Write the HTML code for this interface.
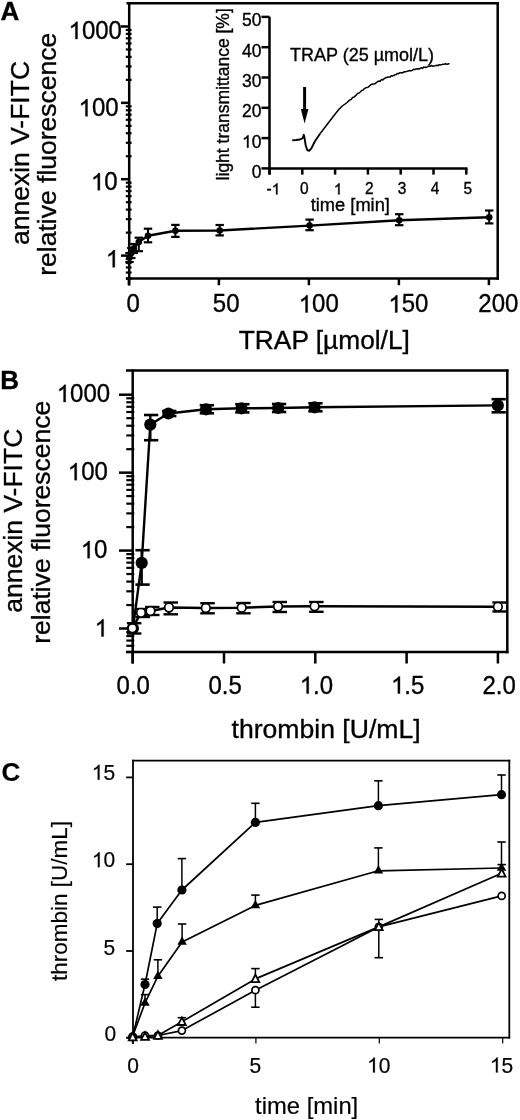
<!DOCTYPE html>
<html><head><meta charset="utf-8"><title>Figure</title>
<style>html,body{margin:0;padding:0;background:#fff;} svg{display:block;will-change:transform;}</style></head>
<body><svg width="520" height="1120" viewBox="0 0 520 1120" font-family="'Liberation Sans', sans-serif" fill="#000" stroke="#000">
<g stroke="#000" stroke-linecap="butt">
<text stroke="#000" stroke-width="0.35" transform="translate(0.40,19.60)" font-size="26" font-weight="bold" >A</text>
<line x1="129.20" y1="2.00" x2="129.20" y2="285.40" stroke-width="2.5"/>
<line x1="126.50" y1="3.20" x2="498.90" y2="3.20" stroke-width="2.5"/>
<line x1="497.70" y1="2.00" x2="497.70" y2="279.80" stroke-width="2.5"/>
<line x1="126.00" y1="278.50" x2="498.90" y2="278.50" stroke-width="2.5"/>
<line x1="121.00" y1="255.60" x2="129.20" y2="255.60" stroke-width="2.5"/>
<line x1="121.00" y1="179.23" x2="129.20" y2="179.23" stroke-width="2.5"/>
<line x1="121.00" y1="102.86" x2="129.20" y2="102.86" stroke-width="2.5"/>
<line x1="121.00" y1="26.49" x2="129.20" y2="26.49" stroke-width="2.5"/>
<line x1="125.80" y1="278.59" x2="131.60" y2="278.59" stroke-width="2.2"/>
<line x1="125.80" y1="272.54" x2="131.60" y2="272.54" stroke-width="2.2"/>
<line x1="125.80" y1="267.43" x2="131.60" y2="267.43" stroke-width="2.2"/>
<line x1="125.80" y1="263.00" x2="131.60" y2="263.00" stroke-width="2.2"/>
<line x1="125.80" y1="259.09" x2="131.60" y2="259.09" stroke-width="2.2"/>
<line x1="125.80" y1="232.61" x2="131.60" y2="232.61" stroke-width="2.2"/>
<line x1="125.80" y1="219.16" x2="131.60" y2="219.16" stroke-width="2.2"/>
<line x1="125.80" y1="209.62" x2="131.60" y2="209.62" stroke-width="2.2"/>
<line x1="125.80" y1="202.22" x2="131.60" y2="202.22" stroke-width="2.2"/>
<line x1="125.80" y1="196.17" x2="131.60" y2="196.17" stroke-width="2.2"/>
<line x1="125.80" y1="191.06" x2="131.60" y2="191.06" stroke-width="2.2"/>
<line x1="125.80" y1="186.63" x2="131.60" y2="186.63" stroke-width="2.2"/>
<line x1="125.80" y1="182.72" x2="131.60" y2="182.72" stroke-width="2.2"/>
<line x1="125.80" y1="156.24" x2="131.60" y2="156.24" stroke-width="2.2"/>
<line x1="125.80" y1="142.79" x2="131.60" y2="142.79" stroke-width="2.2"/>
<line x1="125.80" y1="133.25" x2="131.60" y2="133.25" stroke-width="2.2"/>
<line x1="125.80" y1="125.85" x2="131.60" y2="125.85" stroke-width="2.2"/>
<line x1="125.80" y1="119.80" x2="131.60" y2="119.80" stroke-width="2.2"/>
<line x1="125.80" y1="114.69" x2="131.60" y2="114.69" stroke-width="2.2"/>
<line x1="125.80" y1="110.26" x2="131.60" y2="110.26" stroke-width="2.2"/>
<line x1="125.80" y1="106.35" x2="131.60" y2="106.35" stroke-width="2.2"/>
<line x1="125.80" y1="79.87" x2="131.60" y2="79.87" stroke-width="2.2"/>
<line x1="125.80" y1="66.42" x2="131.60" y2="66.42" stroke-width="2.2"/>
<line x1="125.80" y1="56.88" x2="131.60" y2="56.88" stroke-width="2.2"/>
<line x1="125.80" y1="49.48" x2="131.60" y2="49.48" stroke-width="2.2"/>
<line x1="125.80" y1="43.43" x2="131.60" y2="43.43" stroke-width="2.2"/>
<line x1="125.80" y1="38.32" x2="131.60" y2="38.32" stroke-width="2.2"/>
<line x1="125.80" y1="33.89" x2="131.60" y2="33.89" stroke-width="2.2"/>
<line x1="125.80" y1="29.98" x2="131.60" y2="29.98" stroke-width="2.2"/>
<line x1="128.90" y1="278.50" x2="128.90" y2="285.20" stroke-width="2.5"/>
<line x1="218.90" y1="278.50" x2="218.90" y2="285.20" stroke-width="2.5"/>
<line x1="308.90" y1="278.50" x2="308.90" y2="285.20" stroke-width="2.5"/>
<line x1="398.90" y1="278.50" x2="398.90" y2="285.20" stroke-width="2.5"/>
<line x1="488.90" y1="278.50" x2="488.90" y2="285.20" stroke-width="2.5"/>
<g transform="translate(68.55,38.96) scale(1.0000,1.0405)"><text stroke="#000" stroke-width="0.35" font-size="24" > 000</text><path d="M8.94,0.00 L6.83,0.00 L6.83,-12.92 Q6.07,-12.22 4.84,-11.52 Q3.61,-10.82 2.61,-10.46 L2.61,-12.42 Q4.39,-13.23 5.73,-14.38 Q7.07,-15.53 7.62,-16.51 L8.94,-16.51 Z" stroke-width="0.35"/></g>
<g transform="translate(78.59,116.26) scale(1.0000,1.0405)"><text stroke="#000" stroke-width="0.35" font-size="24" > 00</text><path d="M8.94,0.00 L6.83,0.00 L6.83,-12.92 Q6.07,-12.22 4.84,-11.52 Q3.61,-10.82 2.61,-10.46 L2.61,-12.42 Q4.39,-13.23 5.73,-14.38 Q7.07,-15.53 7.62,-16.51 L8.94,-16.51 Z" stroke-width="0.35"/></g>
<g transform="translate(90.94,190.26) scale(1.0000,1.0405)"><text stroke="#000" stroke-width="0.35" font-size="24" > 0</text><path d="M8.94,0.00 L6.83,0.00 L6.83,-12.92 Q6.07,-12.22 4.84,-11.52 Q3.61,-10.82 2.61,-10.46 L2.61,-12.42 Q4.39,-13.23 5.73,-14.38 Q7.07,-15.53 7.62,-16.51 L8.94,-16.51 Z" stroke-width="0.35"/></g>
<g transform="translate(105.86,267.30) scale(1.0000,1.0405)"><text stroke="#000" stroke-width="0.35" font-size="24" > </text><path d="M8.94,0.00 L6.83,0.00 L6.83,-12.92 Q6.07,-12.22 4.84,-11.52 Q3.61,-10.82 2.61,-10.46 L2.61,-12.42 Q4.39,-13.23 5.73,-14.38 Q7.07,-15.53 7.62,-16.51 L8.94,-16.51 Z" stroke-width="0.35"/></g>
<text stroke="#000" stroke-width="0.35" transform="translate(126.58,312.46) scale(1.0000,1.0405)" font-size="24" >0</text>
<text stroke="#000" stroke-width="0.35" transform="translate(212.84,312.46) scale(1.0000,1.0405)" font-size="24" >50</text>
<g transform="translate(298.69,312.46) scale(1.0000,1.0405)"><text stroke="#000" stroke-width="0.35" font-size="24" > 00</text><path d="M8.94,0.00 L6.83,0.00 L6.83,-12.92 Q6.07,-12.22 4.84,-11.52 Q3.61,-10.82 2.61,-10.46 L2.61,-12.42 Q4.39,-13.23 5.73,-14.38 Q7.07,-15.53 7.62,-16.51 L8.94,-16.51 Z" stroke-width="0.35"/></g>
<g transform="translate(388.39,312.46) scale(1.0000,1.0405)"><text stroke="#000" stroke-width="0.35" font-size="24" > 50</text><path d="M8.94,0.00 L6.83,0.00 L6.83,-12.92 Q6.07,-12.22 4.84,-11.52 Q3.61,-10.82 2.61,-10.46 L2.61,-12.42 Q4.39,-13.23 5.73,-14.38 Q7.07,-15.53 7.62,-16.51 L8.94,-16.51 Z" stroke-width="0.35"/></g>
<text stroke="#000" stroke-width="0.35" transform="translate(478.34,312.46) scale(1.0000,1.0405)" font-size="24" >200</text>
<text stroke="#000" stroke-width="0.35" transform="translate(238.80,349.30)" font-size="26.3" >TRAP [µmol/L]</text>
<text stroke="#000" stroke-width="0.35" transform="translate(28.90,245.05) rotate(-90)" font-size="26.5">annexin V-FITC</text>
<text stroke="#000" stroke-width="0.35" transform="translate(55.90,275.75) rotate(-90)" font-size="26.5">relative fluorescence</text>
<polyline points="129.50,257.50 131.30,253.00 133.80,248.50 138.80,242.00 148.00,235.80 175.40,230.80 219.70,230.50 309.60,225.60 399.20,220.20 489.20,217.20" fill="none" stroke-width="2.4" stroke-linejoin="round" />
<line x1="129.50" y1="253.00" x2="129.50" y2="262.00" stroke-width="2"/>
<line x1="125.30" y1="253.00" x2="133.70" y2="253.00" stroke-width="2.2"/>
<line x1="125.30" y1="262.00" x2="133.70" y2="262.00" stroke-width="2.2"/>
<circle cx="129.50" cy="257.50" r="3.3" fill="#000" stroke-width="0"/>
<line x1="131.30" y1="248.00" x2="131.30" y2="258.00" stroke-width="2"/>
<line x1="127.10" y1="248.00" x2="135.50" y2="248.00" stroke-width="2.2"/>
<line x1="127.10" y1="258.00" x2="135.50" y2="258.00" stroke-width="2.2"/>
<circle cx="131.30" cy="253.00" r="3.3" fill="#000" stroke-width="0"/>
<line x1="133.80" y1="244.00" x2="133.80" y2="253.00" stroke-width="2"/>
<line x1="129.60" y1="244.00" x2="138.00" y2="244.00" stroke-width="2.2"/>
<line x1="129.60" y1="253.00" x2="138.00" y2="253.00" stroke-width="2.2"/>
<circle cx="133.80" cy="248.50" r="3.3" fill="#000" stroke-width="0"/>
<line x1="138.80" y1="237.70" x2="138.80" y2="251.20" stroke-width="2"/>
<line x1="134.60" y1="237.70" x2="143.00" y2="237.70" stroke-width="2.2"/>
<line x1="134.60" y1="251.20" x2="143.00" y2="251.20" stroke-width="2.2"/>
<circle cx="138.80" cy="242.00" r="3.3" fill="#000" stroke-width="0"/>
<line x1="148.00" y1="228.70" x2="148.00" y2="242.30" stroke-width="2"/>
<line x1="143.80" y1="228.70" x2="152.20" y2="228.70" stroke-width="2.2"/>
<line x1="143.80" y1="242.30" x2="152.20" y2="242.30" stroke-width="2.2"/>
<circle cx="148.00" cy="235.80" r="3.3" fill="#000" stroke-width="0"/>
<line x1="175.40" y1="224.90" x2="175.40" y2="236.90" stroke-width="2"/>
<line x1="171.20" y1="224.90" x2="179.60" y2="224.90" stroke-width="2.2"/>
<line x1="171.20" y1="236.90" x2="179.60" y2="236.90" stroke-width="2.2"/>
<circle cx="175.40" cy="230.80" r="3.3" fill="#000" stroke-width="0"/>
<line x1="219.70" y1="225.00" x2="219.70" y2="235.40" stroke-width="2"/>
<line x1="215.50" y1="225.00" x2="223.90" y2="225.00" stroke-width="2.2"/>
<line x1="215.50" y1="235.40" x2="223.90" y2="235.40" stroke-width="2.2"/>
<circle cx="219.70" cy="230.50" r="3.3" fill="#000" stroke-width="0"/>
<line x1="309.60" y1="219.60" x2="309.60" y2="230.20" stroke-width="2"/>
<line x1="305.40" y1="219.60" x2="313.80" y2="219.60" stroke-width="2.2"/>
<line x1="305.40" y1="230.20" x2="313.80" y2="230.20" stroke-width="2.2"/>
<circle cx="309.60" cy="225.60" r="3.3" fill="#000" stroke-width="0"/>
<line x1="399.20" y1="214.20" x2="399.20" y2="225.20" stroke-width="2"/>
<line x1="395.00" y1="214.20" x2="403.40" y2="214.20" stroke-width="2.2"/>
<line x1="395.00" y1="225.20" x2="403.40" y2="225.20" stroke-width="2.2"/>
<circle cx="399.20" cy="220.20" r="3.3" fill="#000" stroke-width="0"/>
<line x1="489.20" y1="210.50" x2="489.20" y2="223.40" stroke-width="2"/>
<line x1="485.00" y1="210.50" x2="493.40" y2="210.50" stroke-width="2.2"/>
<line x1="485.00" y1="223.40" x2="493.40" y2="223.40" stroke-width="2.2"/>
<circle cx="489.20" cy="217.20" r="3.3" fill="#000" stroke-width="0"/>
<line x1="269.50" y1="16.70" x2="269.50" y2="174.60" stroke-width="2.5"/>
<line x1="269.50" y1="168.40" x2="467.50" y2="168.40" stroke-width="2.5"/>
<line x1="261.50" y1="168.40" x2="269.50" y2="168.40" stroke-width="2.5"/>
<line x1="261.50" y1="138.10" x2="269.50" y2="138.10" stroke-width="2.5"/>
<line x1="261.50" y1="107.80" x2="269.50" y2="107.80" stroke-width="2.5"/>
<line x1="261.50" y1="77.50" x2="269.50" y2="77.50" stroke-width="2.5"/>
<line x1="261.50" y1="47.20" x2="269.50" y2="47.20" stroke-width="2.5"/>
<line x1="261.50" y1="16.90" x2="269.50" y2="16.90" stroke-width="2.5"/>
<line x1="269.50" y1="168.40" x2="269.50" y2="174.60" stroke-width="2.5"/>
<line x1="302.30" y1="168.40" x2="302.30" y2="174.60" stroke-width="2.5"/>
<line x1="335.10" y1="168.40" x2="335.10" y2="174.60" stroke-width="2.5"/>
<line x1="367.90" y1="168.40" x2="367.90" y2="174.60" stroke-width="2.5"/>
<line x1="400.70" y1="168.40" x2="400.70" y2="174.60" stroke-width="2.5"/>
<line x1="433.50" y1="168.40" x2="433.50" y2="174.60" stroke-width="2.5"/>
<line x1="466.30" y1="168.40" x2="466.30" y2="174.60" stroke-width="2.5"/>
<text stroke="#000" stroke-width="0.35" transform="translate(251.75,177.97) scale(1.0000,1.0405)" font-size="17.5" >0</text>
<g transform="translate(242.02,147.67) scale(1.0000,1.0405)"><text stroke="#000" stroke-width="0.35" font-size="17.5" > 0</text><path d="M6.52,0.00 L4.98,0.00 L4.98,-9.42 Q4.43,-8.91 3.53,-8.40 Q2.63,-7.89 1.91,-7.63 L1.91,-9.06 Q3.20,-9.65 4.18,-10.49 Q5.15,-11.33 5.55,-12.04 L6.52,-12.04 Z" stroke-width="0.35"/></g>
<text stroke="#000" stroke-width="0.35" transform="translate(242.02,117.37) scale(1.0000,1.0405)" font-size="17.5" >20</text>
<text stroke="#000" stroke-width="0.35" transform="translate(242.02,87.07) scale(1.0000,1.0405)" font-size="17.5" >30</text>
<text stroke="#000" stroke-width="0.35" transform="translate(242.02,56.77) scale(1.0000,1.0405)" font-size="17.5" >40</text>
<text stroke="#000" stroke-width="0.35" transform="translate(242.02,26.47) scale(1.0000,1.0405)" font-size="17.5" >50</text>
<g transform="translate(266.49,194.40) scale(1.0000,1.0405)"><text stroke="#000" stroke-width="0.35" font-size="15.5" >- </text><path d="M10.94,0.00 L9.57,0.00 L9.57,-8.34 Q9.08,-7.89 8.29,-7.44 Q7.49,-6.99 6.85,-6.76 L6.85,-8.02 Q8.00,-8.55 8.86,-9.29 Q9.73,-10.03 10.08,-10.66 L10.94,-10.66 Z" stroke-width="0.35"/></g>
<text stroke="#000" stroke-width="0.35" transform="translate(300.04,194.24) scale(1.0000,1.0405)" font-size="15.5" >0</text>
<g transform="translate(333.77,194.40) scale(1.0000,1.0405)"><text stroke="#000" stroke-width="0.35" font-size="15.5" > </text><path d="M5.77,0.00 L4.41,0.00 L4.41,-8.34 Q3.92,-7.89 3.13,-7.44 Q2.33,-6.99 1.69,-6.76 L1.69,-8.02 Q2.84,-8.55 3.70,-9.29 Q4.56,-10.03 4.92,-10.66 L5.77,-10.66 Z" stroke-width="0.35"/></g>
<text stroke="#000" stroke-width="0.35" transform="translate(364.89,194.40) scale(1.0000,1.0405)" font-size="15.5" >2</text>
<text stroke="#000" stroke-width="0.35" transform="translate(397.84,194.24) scale(1.0000,1.0405)" font-size="15.5" >3</text>
<text stroke="#000" stroke-width="0.35" transform="translate(430.74,194.40) scale(1.0000,1.0405)" font-size="15.5" >4</text>
<text stroke="#000" stroke-width="0.35" transform="translate(463.60,194.24) scale(1.0000,1.0405)" font-size="15.5" >5</text>
<text stroke="#000" stroke-width="0.35" transform="translate(310.70,210.60)" font-size="18.3" >time [min]</text>
<text stroke="#000" stroke-width="0.35" transform="translate(229.10,180.40) rotate(-90)" font-size="17.5">light transmittance [%]</text>
<text stroke="#000" stroke-width="0.35" transform="translate(290.00,61.20)" font-size="18" >TRAP (25 µmol/L)</text>
<line x1="304.60" y1="87.00" x2="304.60" y2="112.00" stroke-width="3"/>
<polygon points="300.8,109 308.4,109 304.6,123.5" fill="#000" stroke="none"/>
<polyline points="292.30,140.30 296.00,140.00 300.00,139.50 302.70,138.20 303.80,134.80 304.70,138.80 305.70,145.60 307.40,150.30 309.40,150.70 311.40,148.30 314.80,141.50 320.20,133.50" fill="none" stroke-width="1.9" stroke-linejoin="round" />
<polyline points="320.20,133.50 326.90,124.70 333.60,116.00 339.00,109.20 341.70,106.50 347.10,102.50 348.44,101.17 349.78,99.85 351.12,99.47 352.46,97.58 353.80,97.10 355.10,96.13 356.40,94.87 357.70,93.42 359.00,93.03 360.30,92.00 361.63,90.47 362.96,90.14 364.29,88.74 365.61,87.88 366.94,87.47 368.27,87.14 369.60,85.80 370.97,84.59 372.34,84.04 373.71,83.92 375.09,83.68 376.46,82.48 377.83,81.54 379.20,81.00 380.40,81.18 381.60,79.39 382.80,80.04 384.00,78.76 385.20,78.06 386.40,77.54 387.60,77.32 388.80,77.10 390.01,77.12 391.23,75.80 392.44,75.94 393.65,75.59 394.86,74.80 396.07,74.62 397.29,73.51 398.50,73.70 399.70,72.76 400.90,72.64 402.10,72.98 403.30,72.30 404.50,71.81 405.70,71.87 406.90,71.36 408.10,71.10 409.47,70.48 410.84,70.83 412.21,70.35 413.59,69.37 414.96,69.49 416.33,69.08 417.70,68.70 418.90,68.99 420.10,68.55 421.30,67.69 422.50,68.42 423.70,66.98 424.90,67.16 426.10,67.40 427.30,66.80 428.67,66.10 430.04,66.36 431.41,65.51 432.79,66.18 434.16,66.10 435.53,65.62 436.90,65.30 438.12,65.63 439.34,64.64 440.56,64.97 441.78,64.63 443.00,64.30 444.30,64.21 445.60,63.84 446.90,64.18 448.20,64.12 449.50,63.30" fill="none" stroke-width="1.5" stroke-linejoin="round" />
<text stroke="#000" stroke-width="0.35" transform="translate(0.20,389.20)" font-size="26" font-weight="bold" >B</text>
<line x1="132.70" y1="369.50" x2="132.70" y2="663.50" stroke-width="2.5"/>
<line x1="126.00" y1="370.60" x2="508.50" y2="370.60" stroke-width="2.5"/>
<line x1="507.30" y1="369.50" x2="507.30" y2="653.20" stroke-width="2.5"/>
<line x1="126.00" y1="652.00" x2="508.50" y2="652.00" stroke-width="2.5"/>
<line x1="119.00" y1="628.50" x2="132.70" y2="628.50" stroke-width="2.5"/>
<line x1="119.00" y1="550.57" x2="132.70" y2="550.57" stroke-width="2.5"/>
<line x1="119.00" y1="472.64" x2="132.70" y2="472.64" stroke-width="2.5"/>
<line x1="119.00" y1="394.71" x2="132.70" y2="394.71" stroke-width="2.5"/>
<line x1="126.30" y1="651.96" x2="134.30" y2="651.96" stroke-width="2.2"/>
<line x1="126.30" y1="645.79" x2="134.30" y2="645.79" stroke-width="2.2"/>
<line x1="126.30" y1="640.57" x2="134.30" y2="640.57" stroke-width="2.2"/>
<line x1="126.30" y1="636.05" x2="134.30" y2="636.05" stroke-width="2.2"/>
<line x1="126.30" y1="632.07" x2="134.30" y2="632.07" stroke-width="2.2"/>
<line x1="126.30" y1="605.04" x2="134.30" y2="605.04" stroke-width="2.2"/>
<line x1="126.30" y1="591.32" x2="134.30" y2="591.32" stroke-width="2.2"/>
<line x1="126.30" y1="581.58" x2="134.30" y2="581.58" stroke-width="2.2"/>
<line x1="126.30" y1="574.03" x2="134.30" y2="574.03" stroke-width="2.2"/>
<line x1="126.30" y1="567.86" x2="134.30" y2="567.86" stroke-width="2.2"/>
<line x1="126.30" y1="562.64" x2="134.30" y2="562.64" stroke-width="2.2"/>
<line x1="126.30" y1="558.12" x2="134.30" y2="558.12" stroke-width="2.2"/>
<line x1="126.30" y1="554.14" x2="134.30" y2="554.14" stroke-width="2.2"/>
<line x1="126.30" y1="527.11" x2="134.30" y2="527.11" stroke-width="2.2"/>
<line x1="126.30" y1="513.39" x2="134.30" y2="513.39" stroke-width="2.2"/>
<line x1="126.30" y1="503.65" x2="134.30" y2="503.65" stroke-width="2.2"/>
<line x1="126.30" y1="496.10" x2="134.30" y2="496.10" stroke-width="2.2"/>
<line x1="126.30" y1="489.93" x2="134.30" y2="489.93" stroke-width="2.2"/>
<line x1="126.30" y1="484.71" x2="134.30" y2="484.71" stroke-width="2.2"/>
<line x1="126.30" y1="480.19" x2="134.30" y2="480.19" stroke-width="2.2"/>
<line x1="126.30" y1="476.21" x2="134.30" y2="476.21" stroke-width="2.2"/>
<line x1="126.30" y1="449.18" x2="134.30" y2="449.18" stroke-width="2.2"/>
<line x1="126.30" y1="435.46" x2="134.30" y2="435.46" stroke-width="2.2"/>
<line x1="126.30" y1="425.72" x2="134.30" y2="425.72" stroke-width="2.2"/>
<line x1="126.30" y1="418.17" x2="134.30" y2="418.17" stroke-width="2.2"/>
<line x1="126.30" y1="412.00" x2="134.30" y2="412.00" stroke-width="2.2"/>
<line x1="126.30" y1="406.78" x2="134.30" y2="406.78" stroke-width="2.2"/>
<line x1="126.30" y1="402.26" x2="134.30" y2="402.26" stroke-width="2.2"/>
<line x1="126.30" y1="398.28" x2="134.30" y2="398.28" stroke-width="2.2"/>
<line x1="132.70" y1="652.00" x2="132.70" y2="663.50" stroke-width="2.5"/>
<line x1="224.00" y1="652.00" x2="224.00" y2="663.50" stroke-width="2.5"/>
<line x1="315.30" y1="652.00" x2="315.30" y2="663.50" stroke-width="2.5"/>
<line x1="406.60" y1="652.00" x2="406.60" y2="663.50" stroke-width="2.5"/>
<line x1="497.90" y1="652.00" x2="497.90" y2="663.50" stroke-width="2.5"/>
<g transform="translate(56.75,401.96) scale(1.0000,1.0405)"><text stroke="#000" stroke-width="0.35" font-size="24" > 000</text><path d="M8.94,0.00 L6.83,0.00 L6.83,-12.92 Q6.07,-12.22 4.84,-11.52 Q3.61,-10.82 2.61,-10.46 L2.61,-12.42 Q4.39,-13.23 5.73,-14.38 Q7.07,-15.53 7.62,-16.51 L8.94,-16.51 Z" stroke-width="0.35"/></g>
<g transform="translate(67.79,480.16) scale(1.0000,1.0405)"><text stroke="#000" stroke-width="0.35" font-size="24" > 00</text><path d="M8.94,0.00 L6.83,0.00 L6.83,-12.92 Q6.07,-12.22 4.84,-11.52 Q3.61,-10.82 2.61,-10.46 L2.61,-12.42 Q4.39,-13.23 5.73,-14.38 Q7.07,-15.53 7.62,-16.51 L8.94,-16.51 Z" stroke-width="0.35"/></g>
<g transform="translate(80.74,558.16) scale(1.0000,1.0405)"><text stroke="#000" stroke-width="0.35" font-size="24" > 0</text><path d="M8.94,0.00 L6.83,0.00 L6.83,-12.92 Q6.07,-12.22 4.84,-11.52 Q3.61,-10.82 2.61,-10.46 L2.61,-12.42 Q4.39,-13.23 5.73,-14.38 Q7.07,-15.53 7.62,-16.51 L8.94,-16.51 Z" stroke-width="0.35"/></g>
<g transform="translate(94.66,636.50) scale(1.0000,1.0405)"><text stroke="#000" stroke-width="0.35" font-size="24" > </text><path d="M8.94,0.00 L6.83,0.00 L6.83,-12.92 Q6.07,-12.22 4.84,-11.52 Q3.61,-10.82 2.61,-10.46 L2.61,-12.42 Q4.39,-13.23 5.73,-14.38 Q7.07,-15.53 7.62,-16.51 L8.94,-16.51 Z" stroke-width="0.35"/></g>
<text stroke="#000" stroke-width="0.35" transform="translate(116.57,693.56) scale(1.0000,1.0405)" font-size="24" >0.0</text>
<text stroke="#000" stroke-width="0.35" transform="translate(208.45,693.56) scale(1.0000,1.0405)" font-size="24" >0.5</text>
<g transform="translate(299.78,693.56) scale(1.0000,1.0405)"><text stroke="#000" stroke-width="0.35" font-size="24" > .0</text><path d="M8.94,0.00 L6.83,0.00 L6.83,-12.92 Q6.07,-12.22 4.84,-11.52 Q3.61,-10.82 2.61,-10.46 L2.61,-12.42 Q4.39,-13.23 5.73,-14.38 Q7.07,-15.53 7.62,-16.51 L8.94,-16.51 Z" stroke-width="0.35"/></g>
<g transform="translate(391.02,693.56) scale(1.0000,1.0405)"><text stroke="#000" stroke-width="0.35" font-size="24" > .5</text><path d="M8.94,0.00 L6.83,0.00 L6.83,-12.92 Q6.07,-12.22 4.84,-11.52 Q3.61,-10.82 2.61,-10.46 L2.61,-12.42 Q4.39,-13.23 5.73,-14.38 Q7.07,-15.53 7.62,-16.51 L8.94,-16.51 Z" stroke-width="0.35"/></g>
<text stroke="#000" stroke-width="0.35" transform="translate(482.53,693.56) scale(1.0000,1.0405)" font-size="24" >2.0</text>
<text stroke="#000" stroke-width="0.35" transform="translate(231.50,738.30)" font-size="26.6" >thrombin [U/mL]</text>
<text stroke="#000" stroke-width="0.35" transform="translate(21.90,612.80) rotate(-90)" font-size="26.5">annexin V-FITC</text>
<text stroke="#000" stroke-width="0.35" transform="translate(49.60,643.80) rotate(-90)" font-size="26.5">relative fluorescence</text>
<polyline points="132.90,628.30 141.70,562.90 150.30,424.60 168.40,413.50 206.00,409.30 241.50,408.30 278.20,408.00 314.60,407.30 497.80,405.40" fill="none" stroke-width="2.4" stroke-linejoin="round" />
<polyline points="132.40,628.20 141.00,612.80 150.50,611.00 169.00,607.50 205.80,608.00 241.70,607.70 278.00,606.50 314.60,606.30 497.90,606.80" fill="none" stroke-width="2.4" stroke-linejoin="round" />
<line x1="141.70" y1="550.20" x2="141.70" y2="584.60" stroke-width="2.4"/>
<line x1="135.40" y1="550.20" x2="149.70" y2="550.20" stroke-width="2.6"/>
<line x1="135.40" y1="584.60" x2="149.70" y2="584.60" stroke-width="2.6"/>
<line x1="150.30" y1="415.00" x2="150.30" y2="440.20" stroke-width="2.4"/>
<line x1="144.00" y1="415.00" x2="158.30" y2="415.00" stroke-width="2.6"/>
<line x1="144.00" y1="440.20" x2="158.30" y2="440.20" stroke-width="2.6"/>
<line x1="168.40" y1="411.00" x2="168.40" y2="416.00" stroke-width="2.4"/>
<line x1="162.10" y1="411.00" x2="176.40" y2="411.00" stroke-width="2.6"/>
<line x1="162.10" y1="416.00" x2="176.40" y2="416.00" stroke-width="2.6"/>
<line x1="206.00" y1="405.20" x2="206.00" y2="413.30" stroke-width="2.4"/>
<line x1="199.70" y1="405.20" x2="214.00" y2="405.20" stroke-width="2.6"/>
<line x1="199.70" y1="413.30" x2="214.00" y2="413.30" stroke-width="2.6"/>
<line x1="241.50" y1="404.20" x2="241.50" y2="412.40" stroke-width="2.4"/>
<line x1="235.20" y1="404.20" x2="249.50" y2="404.20" stroke-width="2.6"/>
<line x1="235.20" y1="412.40" x2="249.50" y2="412.40" stroke-width="2.6"/>
<line x1="278.20" y1="404.00" x2="278.20" y2="412.00" stroke-width="2.4"/>
<line x1="271.90" y1="404.00" x2="286.20" y2="404.00" stroke-width="2.6"/>
<line x1="271.90" y1="412.00" x2="286.20" y2="412.00" stroke-width="2.6"/>
<line x1="314.60" y1="403.30" x2="314.60" y2="411.30" stroke-width="2.4"/>
<line x1="308.30" y1="403.30" x2="322.60" y2="403.30" stroke-width="2.6"/>
<line x1="308.30" y1="411.30" x2="322.60" y2="411.30" stroke-width="2.6"/>
<line x1="497.80" y1="399.20" x2="497.80" y2="412.30" stroke-width="2.4"/>
<line x1="491.50" y1="399.20" x2="505.80" y2="399.20" stroke-width="2.6"/>
<line x1="491.50" y1="412.30" x2="505.80" y2="412.30" stroke-width="2.6"/>
<line x1="132.40" y1="623.20" x2="132.40" y2="633.50" stroke-width="2.4"/>
<line x1="126.90" y1="623.20" x2="141.40" y2="623.20" stroke-width="2.4"/>
<line x1="126.90" y1="633.50" x2="141.40" y2="633.50" stroke-width="2.4"/>
<line x1="141.00" y1="609.00" x2="141.00" y2="617.00" stroke-width="2.4"/>
<line x1="135.50" y1="609.00" x2="150.00" y2="609.00" stroke-width="2.4"/>
<line x1="135.50" y1="617.00" x2="150.00" y2="617.00" stroke-width="2.4"/>
<line x1="150.50" y1="607.00" x2="150.50" y2="615.00" stroke-width="2.4"/>
<line x1="145.00" y1="607.00" x2="159.50" y2="607.00" stroke-width="2.4"/>
<line x1="145.00" y1="615.00" x2="159.50" y2="615.00" stroke-width="2.4"/>
<line x1="169.00" y1="602.50" x2="169.00" y2="614.30" stroke-width="2.4"/>
<line x1="163.50" y1="602.50" x2="178.00" y2="602.50" stroke-width="2.4"/>
<line x1="163.50" y1="614.30" x2="178.00" y2="614.30" stroke-width="2.4"/>
<line x1="205.80" y1="603.20" x2="205.80" y2="613.30" stroke-width="2.4"/>
<line x1="200.30" y1="603.20" x2="214.80" y2="603.20" stroke-width="2.4"/>
<line x1="200.30" y1="613.30" x2="214.80" y2="613.30" stroke-width="2.4"/>
<line x1="241.70" y1="603.00" x2="241.70" y2="613.30" stroke-width="2.4"/>
<line x1="236.20" y1="603.00" x2="250.70" y2="603.00" stroke-width="2.4"/>
<line x1="236.20" y1="613.30" x2="250.70" y2="613.30" stroke-width="2.4"/>
<line x1="278.00" y1="602.00" x2="278.00" y2="612.00" stroke-width="2.4"/>
<line x1="272.50" y1="602.00" x2="287.00" y2="602.00" stroke-width="2.4"/>
<line x1="272.50" y1="612.00" x2="287.00" y2="612.00" stroke-width="2.4"/>
<line x1="314.60" y1="602.00" x2="314.60" y2="611.80" stroke-width="2.4"/>
<line x1="309.10" y1="602.00" x2="323.60" y2="602.00" stroke-width="2.4"/>
<line x1="309.10" y1="611.80" x2="323.60" y2="611.80" stroke-width="2.4"/>
<line x1="497.90" y1="602.50" x2="497.90" y2="611.50" stroke-width="2.4"/>
<line x1="492.40" y1="602.50" x2="506.90" y2="602.50" stroke-width="2.4"/>
<line x1="492.40" y1="611.50" x2="506.90" y2="611.50" stroke-width="2.4"/>
<circle cx="132.90" cy="628.30" r="6.1" fill="#000" stroke-width="0"/>
<circle cx="141.70" cy="562.90" r="6.1" fill="#000" stroke-width="0"/>
<circle cx="150.30" cy="424.60" r="6.1" fill="#000" stroke-width="0"/>
<circle cx="168.40" cy="413.50" r="6.1" fill="#000" stroke-width="0"/>
<circle cx="206.00" cy="409.30" r="6.1" fill="#000" stroke-width="0"/>
<circle cx="241.50" cy="408.30" r="6.1" fill="#000" stroke-width="0"/>
<circle cx="278.20" cy="408.00" r="6.1" fill="#000" stroke-width="0"/>
<circle cx="314.60" cy="407.30" r="6.1" fill="#000" stroke-width="0"/>
<circle cx="497.80" cy="405.40" r="6.1" fill="#000" stroke-width="0"/>
<circle cx="132.40" cy="628.20" r="4.3" fill="#fff" stroke-width="1.7"/>
<circle cx="141.00" cy="612.80" r="4.3" fill="#fff" stroke-width="1.7"/>
<circle cx="150.50" cy="611.00" r="4.3" fill="#fff" stroke-width="1.7"/>
<circle cx="169.00" cy="607.50" r="4.3" fill="#fff" stroke-width="1.7"/>
<circle cx="205.80" cy="608.00" r="4.3" fill="#fff" stroke-width="1.7"/>
<circle cx="241.70" cy="607.70" r="4.3" fill="#fff" stroke-width="1.7"/>
<circle cx="278.00" cy="606.50" r="4.3" fill="#fff" stroke-width="1.7"/>
<circle cx="314.60" cy="606.30" r="4.3" fill="#fff" stroke-width="1.7"/>
<circle cx="497.90" cy="606.80" r="4.3" fill="#fff" stroke-width="1.7"/>
<text stroke="#000" stroke-width="0.2" transform="translate(1.60,780.70)" font-size="26" font-weight="bold" >C</text>
<line x1="133.00" y1="759.80" x2="133.00" y2="1044.00" stroke-width="1.8"/>
<line x1="132.20" y1="760.60" x2="510.20" y2="760.60" stroke-width="1.8"/>
<line x1="509.30" y1="759.80" x2="509.30" y2="1038.50" stroke-width="1.8"/>
<line x1="126.50" y1="1037.70" x2="510.20" y2="1037.70" stroke-width="1.8"/>
<line x1="126.20" y1="1037.80" x2="133.00" y2="1037.80" stroke-width="1.8"/>
<line x1="126.20" y1="951.00" x2="133.00" y2="951.00" stroke-width="1.8"/>
<line x1="126.20" y1="864.20" x2="133.00" y2="864.20" stroke-width="1.8"/>
<line x1="126.20" y1="777.40" x2="133.00" y2="777.40" stroke-width="1.8"/>
<line x1="132.50" y1="1037.70" x2="132.50" y2="1043.50" stroke-width="1.2"/>
<line x1="255.90" y1="1037.70" x2="255.90" y2="1043.50" stroke-width="1.2"/>
<line x1="379.30" y1="1037.70" x2="379.30" y2="1043.50" stroke-width="1.2"/>
<line x1="502.70" y1="1037.70" x2="502.70" y2="1043.50" stroke-width="1.2"/>
<g transform="translate(91.72,779.79) scale(1.0000,1.0405)"><text stroke="#000" stroke-width="0.2" font-size="21" > 5</text><path d="M7.82,0.00 L5.98,0.00 L5.98,-11.30 Q5.31,-10.69 4.23,-10.08 Q3.16,-9.47 2.29,-9.16 L2.29,-10.87 Q3.85,-11.58 5.01,-12.59 Q6.18,-13.59 6.67,-14.45 L7.82,-14.45 Z" stroke-width="0.2"/></g>
<g transform="translate(91.86,867.29) scale(1.0000,1.0405)"><text stroke="#000" stroke-width="0.2" font-size="21" > 0</text><path d="M7.82,0.00 L5.98,0.00 L5.98,-11.30 Q5.31,-10.69 4.23,-10.08 Q3.16,-9.47 2.29,-9.16 L2.29,-10.87 Q3.85,-11.58 5.01,-12.59 Q6.18,-13.59 6.67,-14.45 L7.82,-14.45 Z" stroke-width="0.2"/></g>
<text stroke="#000" stroke-width="0.2" transform="translate(103.60,954.79) scale(1.0000,1.0405)" font-size="21" >5</text>
<text stroke="#000" stroke-width="0.2" transform="translate(104.54,1041.19) scale(1.0000,1.0405)" font-size="21" >0</text>
<text stroke="#000" stroke-width="0.2" transform="translate(127.26,1072.59) scale(1.0000,1.0405)" font-size="21" >0</text>
<text stroke="#000" stroke-width="0.2" transform="translate(249.53,1072.59) scale(1.0000,1.0405)" font-size="21" >5</text>
<g transform="translate(367.04,1072.59) scale(1.0000,1.0405)"><text stroke="#000" stroke-width="0.2" font-size="21" > 0</text><path d="M7.82,0.00 L5.98,0.00 L5.98,-11.30 Q5.31,-10.69 4.23,-10.08 Q3.16,-9.47 2.29,-9.16 L2.29,-10.87 Q3.85,-11.58 5.01,-12.59 Q6.18,-13.59 6.67,-14.45 L7.82,-14.45 Z" stroke-width="0.2"/></g>
<g transform="translate(489.92,1072.59) scale(1.0000,1.0405)"><text stroke="#000" stroke-width="0.2" font-size="21" > 5</text><path d="M7.82,0.00 L5.98,0.00 L5.98,-11.30 Q5.31,-10.69 4.23,-10.08 Q3.16,-9.47 2.29,-9.16 L2.29,-10.87 Q3.85,-11.58 5.01,-12.59 Q6.18,-13.59 6.67,-14.45 L7.82,-14.45 Z" stroke-width="0.2"/></g>
<text stroke="#000" stroke-width="0.2" transform="translate(255.10,1113.80)" font-size="23.8" >time [min]</text>
<text stroke="#000" stroke-width="0.2" transform="translate(67.10,981.00) rotate(-90)" font-size="22.5">thrombin [U/mL]</text>
<polyline points="132.70,1036.80 145.00,984.50 157.20,923.60 181.90,890.00 255.40,822.40 378.40,805.70 501.50,794.70" fill="none" stroke-width="1.7" stroke-linejoin="round" />
<polyline points="132.70,1036.00 145.00,1003.00 157.90,976.20 182.10,942.00 255.40,905.40 378.40,870.80 501.50,868.00" fill="none" stroke-width="1.7" stroke-linejoin="round" />
<polyline points="132.70,1037.00 145.00,1036.60 157.90,1035.50 181.90,1021.70 255.40,978.90 378.80,926.90 501.70,873.30" fill="none" stroke-width="1.7" stroke-linejoin="round" />
<polyline points="132.70,1037.00 145.00,1035.50 157.90,1035.50 181.90,1030.60 255.40,990.20 378.80,926.90 501.70,895.90" fill="none" stroke-width="1.7" stroke-linejoin="round" />
<line x1="145.00" y1="984.50" x2="145.00" y2="979.20" stroke-width="1.5"/>
<line x1="140.80" y1="979.20" x2="149.20" y2="979.20" stroke-width="1.6"/>
<line x1="157.20" y1="923.60" x2="157.20" y2="907.10" stroke-width="1.5"/>
<line x1="153.00" y1="907.10" x2="161.40" y2="907.10" stroke-width="1.6"/>
<line x1="181.90" y1="890.00" x2="181.90" y2="858.60" stroke-width="1.5"/>
<line x1="177.70" y1="858.60" x2="186.10" y2="858.60" stroke-width="1.6"/>
<line x1="255.40" y1="822.40" x2="255.40" y2="803.30" stroke-width="1.5"/>
<line x1="251.20" y1="803.30" x2="259.60" y2="803.30" stroke-width="1.6"/>
<line x1="378.40" y1="805.70" x2="378.40" y2="780.80" stroke-width="1.5"/>
<line x1="374.20" y1="780.80" x2="382.60" y2="780.80" stroke-width="1.6"/>
<line x1="501.50" y1="794.70" x2="501.50" y2="775.00" stroke-width="1.5"/>
<line x1="497.30" y1="775.00" x2="505.70" y2="775.00" stroke-width="1.6"/>
<line x1="145.00" y1="1003.00" x2="145.00" y2="994.60" stroke-width="1.5"/>
<line x1="140.80" y1="994.60" x2="149.20" y2="994.60" stroke-width="1.6"/>
<line x1="157.90" y1="976.20" x2="157.90" y2="959.80" stroke-width="1.5"/>
<line x1="153.70" y1="959.80" x2="162.10" y2="959.80" stroke-width="1.6"/>
<line x1="182.10" y1="942.00" x2="182.10" y2="924.00" stroke-width="1.5"/>
<line x1="177.90" y1="924.00" x2="186.30" y2="924.00" stroke-width="1.6"/>
<line x1="255.40" y1="905.40" x2="255.40" y2="895.10" stroke-width="1.5"/>
<line x1="251.20" y1="895.10" x2="259.60" y2="895.10" stroke-width="1.6"/>
<line x1="378.40" y1="870.80" x2="378.40" y2="847.90" stroke-width="1.5"/>
<line x1="374.20" y1="847.90" x2="382.60" y2="847.90" stroke-width="1.6"/>
<line x1="501.50" y1="868.00" x2="501.50" y2="842.00" stroke-width="1.5"/>
<line x1="497.30" y1="842.00" x2="505.70" y2="842.00" stroke-width="1.6"/>
<line x1="181.90" y1="1021.70" x2="181.90" y2="1017.70" stroke-width="1.5"/>
<line x1="177.70" y1="1017.70" x2="186.10" y2="1017.70" stroke-width="1.6"/>
<line x1="255.40" y1="978.90" x2="255.40" y2="968.60" stroke-width="1.5"/>
<line x1="251.20" y1="968.60" x2="259.60" y2="968.60" stroke-width="1.6"/>
<line x1="378.80" y1="926.90" x2="378.80" y2="919.40" stroke-width="1.5"/>
<line x1="374.60" y1="919.40" x2="383.00" y2="919.40" stroke-width="1.6"/>
<line x1="501.70" y1="873.30" x2="501.70" y2="864.60" stroke-width="1.5"/>
<line x1="497.50" y1="864.60" x2="505.90" y2="864.60" stroke-width="1.6"/>
<line x1="255.40" y1="990.20" x2="255.40" y2="1007.20" stroke-width="1.5"/>
<line x1="251.20" y1="1007.20" x2="259.60" y2="1007.20" stroke-width="1.6"/>
<line x1="378.80" y1="926.90" x2="378.80" y2="957.70" stroke-width="1.5"/>
<line x1="374.60" y1="957.70" x2="383.00" y2="957.70" stroke-width="1.6"/>
<circle cx="132.70" cy="1036.80" r="4.6" fill="#000" stroke-width="0"/>
<circle cx="145.00" cy="984.50" r="4.6" fill="#000" stroke-width="0"/>
<circle cx="157.20" cy="923.60" r="4.6" fill="#000" stroke-width="0"/>
<circle cx="181.90" cy="890.00" r="4.6" fill="#000" stroke-width="0"/>
<circle cx="255.40" cy="822.40" r="4.6" fill="#000" stroke-width="0"/>
<circle cx="378.40" cy="805.70" r="4.6" fill="#000" stroke-width="0"/>
<circle cx="501.50" cy="794.70" r="4.6" fill="#000" stroke-width="0"/>
<polygon points="132.70,1030.52 127.95,1038.74 137.45,1038.74" fill="#000" stroke-width="0" stroke-linejoin="miter"/>
<polygon points="145.00,997.52 140.25,1005.74 149.75,1005.74" fill="#000" stroke-width="0" stroke-linejoin="miter"/>
<polygon points="157.90,970.72 153.15,978.94 162.65,978.94" fill="#000" stroke-width="0" stroke-linejoin="miter"/>
<polygon points="182.10,936.52 177.35,944.74 186.85,944.74" fill="#000" stroke-width="0" stroke-linejoin="miter"/>
<polygon points="255.40,899.92 250.65,908.14 260.15,908.14" fill="#000" stroke-width="0" stroke-linejoin="miter"/>
<polygon points="378.40,865.32 373.65,873.54 383.15,873.54" fill="#000" stroke-width="0" stroke-linejoin="miter"/>
<polygon points="501.50,862.52 496.75,870.74 506.25,870.74" fill="#000" stroke-width="0" stroke-linejoin="miter"/>
<circle cx="132.70" cy="1037.00" r="3.5" fill="#fff" stroke-width="1.7"/>
<circle cx="145.00" cy="1035.50" r="3.5" fill="#fff" stroke-width="1.7"/>
<circle cx="157.90" cy="1035.50" r="3.5" fill="#fff" stroke-width="1.7"/>
<circle cx="181.90" cy="1030.60" r="3.5" fill="#fff" stroke-width="1.7"/>
<circle cx="255.40" cy="990.20" r="3.5" fill="#fff" stroke-width="1.7"/>
<circle cx="378.80" cy="926.90" r="3.5" fill="#fff" stroke-width="1.7"/>
<circle cx="501.70" cy="895.90" r="3.5" fill="#fff" stroke-width="1.7"/>
<polygon points="132.70,1032.70 128.80,1040.30 136.60,1040.30" fill="#fff" stroke-width="1.8" stroke-linejoin="miter"/>
<polygon points="145.00,1032.30 141.10,1039.90 148.90,1039.90" fill="#fff" stroke-width="1.8" stroke-linejoin="miter"/>
<polygon points="157.90,1031.20 154.00,1038.80 161.80,1038.80" fill="#fff" stroke-width="1.8" stroke-linejoin="miter"/>
<polygon points="181.90,1017.40 178.00,1025.00 185.80,1025.00" fill="#fff" stroke-width="1.8" stroke-linejoin="miter"/>
<polygon points="255.40,974.60 251.50,982.20 259.30,982.20" fill="#fff" stroke-width="1.8" stroke-linejoin="miter"/>
<polygon points="378.80,922.60 374.90,930.20 382.70,930.20" fill="#fff" stroke-width="1.8" stroke-linejoin="miter"/>
<polygon points="501.70,869.00 497.80,876.60 505.60,876.60" fill="#fff" stroke-width="1.8" stroke-linejoin="miter"/>
</g></svg></body></html>
